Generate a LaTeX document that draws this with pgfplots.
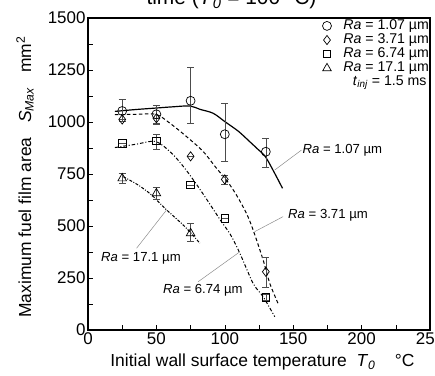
\documentclass[border=0pt]{standalone}
\usepackage{pgfplots}
\pgfplotsset{compat=1.18}
\usepackage{fontspec}
\setmainfont{Liberation Sans}
\newcommand{\legfont}{\fontsize{14.2}{14.2}\selectfont}
\newcommand{\labfont}{\fontsize{13.2}{13.2}\selectfont}
\begin{document}
\begin{tikzpicture}
\node[anchor=base, font=\fontsize{21}{24}\selectfont] at (231.5bp,371bp) {time (\textit{T}\textsubscript{\textit{0}} = 100 °C)};
\begin{axis}[at={(88bp,46bp)}, anchor=south west, scale only axis,
  width=342bp, height=312bp,
  xmin=0, xmax=250, ymin=0, ymax=1500,
  xtick distance=50, ytick distance=250,
  minor x tick num=1, minor y tick num=1,
  xtick pos=bottom, ytick pos=left,
  tick align=inside,
  major tick length=4.5bp, minor tick length=4.5bp,
  axis line style={line width=1.3pt},
  every tick/.style={black, line width=0.6pt},
  /pgf/number format/1000 sep={},
  /pgf/number format/assume math mode=true,
  ticklabel style={font=\fontsize{17}{17}\selectfont},
  yticklabel style={xshift=1bp},
  xticklabel style={yshift=1bp},
  xlabel={Initial wall surface temperature\ \ \textit{T}\textsubscript{\textit{0}}\ \ \ \ °C},
  ylabel={Maximum fuel film area\ \ \ \textit{S}\textsubscript{\textit{Max}}\ \ \ mm\textsuperscript{2}},
  label style={font=\fontsize{17.5}{17.5}\selectfont},
  xlabel style={at={(axis description cs:0.51,-0.103)}, anchor=center},
  ylabel style={at={(axis description cs:-0.184,0.49)}, anchor=center, rotate=0},
  error bars/error bar style={line width=0.6pt, black!70},
  error bars/error mark options={rotate=90, mark size=3.5pt, line width=0.6pt, black!70},
]
% fitted curves
\addplot[black, line width=1.2pt, smooth, forget plot] coordinates {
 (19.7,1051) (35,1060) (49.6,1067) (62,1073) (74.5,1077) (81.8,1061) (91.5,1042) (100,1002)
 (110,955) (118.3,905) (124,870) (129.7,833) (136.5,753) (142.2,681)};
\addplot[black, line width=1.0pt, dash pattern=on 3.5pt off 2.5pt, smooth, forget plot] coordinates {
 (19.7,1035) (35,1037) (49.6,1037) (59.9,994) (72,930) (84.2,858) (94,777) (101.2,721)
 (108.5,649) (115.8,561) (120.7,481) (128,337) (132.9,224) (138.9,128)};
\addplot[black, line width=1.0pt, dash pattern=on 3.5pt off 2pt on 1pt off 2pt, smooth, forget plot] coordinates {
 (19.7,877) (35,893) (49.6,906) (61.1,850) (70.8,777) (80.5,689) (90.3,593) (97.6,520)
 (104,460) (111,369) (120.7,224) (128,160) (136.5,64)};
\addplot[black, line width=1.0pt, dash pattern=on 3pt off 1.5pt on 1pt off 1.5pt, smooth, forget plot] coordinates {
 (25.8,737) (36.7,697) (46.5,649) (56.2,585) (70.8,497) (81.8,417)};
% leader lines
\addplot[black!45, line width=0.5pt, forget plot] coordinates {(136.5,769) (156,865)};
\addplot[black!45, line width=0.5pt, forget plot] coordinates {(121.9,473) (142.6,545)};
\addplot[black!45, line width=0.5pt, forget plot] coordinates {(80.5,232) (111,376)};
\addplot[black!45, line width=0.5pt, forget plot] coordinates {(35.5,393) (57.4,577)};
\node[anchor=west, inner sep=1pt, font=\labfont] at (axis cs:156,865) {\textit{Ra} = 1.07 µm};
\node[anchor=west, inner sep=1pt, font=\labfont] at (axis cs:145.5,553) {\textit{Ra} = 3.71 µm};
\node[anchor=center, font=\labfont] at (axis cs:84,189) {\textit{Ra} = 6.74 µm};
\node[anchor=center, font=\labfont] at (axis cs:38.7,346) {\textit{Ra} = 17.1 µm};
% data with error bars
\addplot[only marks, mark=o, mark size=4.5pt, mark options={fill=white, draw=black, line width=0.7pt},
  error bars/.cd, y dir=both, y explicit]
  table[x=x, y=y, y error plus=ep, y error minus=em] {
x y ep em
25 1053 57 50
50 1037 45 45
75 1102 160 110
100 941 147 132
130 857 64 75
};
\addplot[only marks, mark=diamond, mark size=4.6pt, mark options={fill=white, draw=black, line width=0.7pt},
  error bars/.cd, y dir=both, y explicit]
  table[x=x, y=y, y error plus=ep, y error minus=em] {
x y ep em
25 1012 0 0
50 1018 0 30
75 835 0 0
100 724 20 22
130 280 70 75
};
\addplot[only marks, mark=square, mark size=3.8pt, mark options={fill=white, draw=black, line width=0.7pt},
  error bars/.cd, y dir=both, y explicit]
  table[x=x, y=y, y error plus=ep, y error minus=em] {
x y ep em
25 897 0 0
50 909 30 38
75 697 0 0
100 537 0 0
130 157 15 15
};
\addplot[only marks, mark=triangle, mark size=5pt, mark options={fill=white, draw=black, line width=0.7pt},
  error bars/.cd, y dir=both, y explicit]
  table[x=x, y=y, y error plus=ep, y error minus=em] {
x y ep em
25 729 22 25
50 657 30 30
75 465 50 40
};
% legend key (symbols and texts)
\addplot[only marks, forget plot, mark=o, mark size=4.5pt, mark options={fill=white, draw=black, line width=0.7pt}] coordinates {(174.7,1462)};
\addplot[only marks, forget plot, mark=diamond, mark size=4.6pt, mark options={fill=white, draw=black, line width=0.7pt}] coordinates {(174.7,1394)};
\addplot[only marks, forget plot, mark=square, mark size=3.8pt, mark options={fill=white, draw=black, line width=0.7pt}] coordinates {(174.7,1327)};
\addplot[only marks, forget plot, mark=triangle, mark size=5pt, mark options={fill=white, draw=black, line width=0.7pt}] coordinates {(174.7,1258)};
\node[anchor=west, inner sep=0pt, font=\legfont] at (axis cs:186.5,1462) {\textit{Ra} = 1.07 µm};
\node[anchor=west, inner sep=0pt, font=\legfont] at (axis cs:186.5,1394) {\textit{Ra} = 3.71 µm};
\node[anchor=west, inner sep=0pt, font=\legfont] at (axis cs:186.5,1327) {\textit{Ra} = 6.74 µm};
\node[anchor=west, inner sep=0pt, font=\legfont] at (axis cs:186.5,1260) {\textit{Ra} = 17.1 µm};
\node[anchor=west, inner sep=0pt, font=\legfont] at (axis cs:193.5,1188) {\textit{t}\textsubscript{\textit{inj}} = 1.5 ms};
\end{axis}
\pgfresetboundingbox
\path[use as bounding box] (0bp,0bp) rectangle (435bp,376bp);
\end{tikzpicture}
\end{document}
